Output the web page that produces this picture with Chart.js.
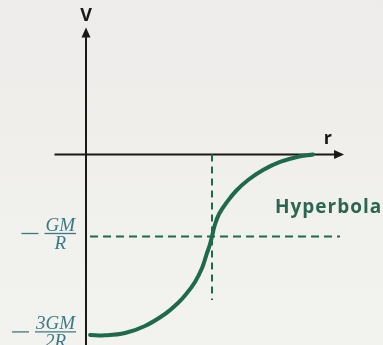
<!DOCTYPE html>
<html>
<head>
<meta charset="utf-8">
<script src="https://cdn.jsdelivr.net/npm/chart.js@4/dist/chart.umd.min.js"></script>
<style>
  html, body { margin: 0; padding: 0; background: #efeeec; }
  #wrap { width: 383px; height: 345px; }
</style>
</head>
<body>
<div id="wrap"><canvas id="potentialChart" width="383" height="345"></canvas></div>
<script>
// Potential V against distance r, r in units of R, V in sketch units
const rValues = [0.032, 0.151, 0.310, 0.468, 0.627, 0.730, 0.802, 0.865, 0.921, 0.955, 0.982, 1.0, 1.020, 1.056, 1.119, 1.190, 1.286, 1.405, 1.540, 1.675, 1.802];
const vValues = [-2.2, -2.205, -2.177, -2.091, -1.945, -1.811, -1.689, -1.555, -1.384, -1.226, -1.104, -1.0, -0.872, -0.726, -0.579, -0.445, -0.311, -0.189, -0.091, -0.030, 0.0];

// Levels marked on the V axis
const vTickValues = [-1.0, -2.2];
const vTickNumer = ['GM', '3GM'];
const vTickDenom = ['R', '2R'];

// Guide lines at r = R and V = -GM/R
const guideR = [1.0, 1.0];
const guideRV = [0.0, -1.774];
const guideVr = [0.032, 2.016];
const guideV = [-1.0, -1.0];

const xRange = [-0.6825, 2.357];
const yRange = [-2.323, 1.884];

const green = '#1f6a4b';
const ink = '#1b1917';
const labelBlue = '#3b7a84';

function toPoints(xs, ys) {
    return xs.map((x, i) => ({ x: x, y: ys[i] }));
}

// Arrow head pointing along (dx, dy)
function arrowHead(ctx, x, y, dx, dy) {
    const len = 10, half = 4.5;
    const px = -dy, py = dx;
    ctx.beginPath();
    ctx.moveTo(x, y);
    ctx.lineTo(x - dx * len + px * half, y - dy * len + py * half);
    ctx.lineTo(x - dx * len - px * half, y - dy * len - py * half);
    ctx.closePath();
    ctx.fill();
}

const sketchPlugin = {
    id: 'sketch',
    beforeDraw(chart) {
        const ctx = chart.ctx;
        const g = ctx.createLinearGradient(0, 0, 0, chart.height);
        g.addColorStop(0, '#eeecea');
        g.addColorStop(1, '#f2f3ef');
        ctx.save();
        ctx.fillStyle = g;
        ctx.fillRect(0, 0, chart.width, chart.height);
        ctx.restore();
    },
    beforeDatasetsDraw(chart) {
        const ctx = chart.ctx;
        const xs = chart.scales.x, ys = chart.scales.y;
        const x0 = xs.getPixelForValue(0), y0 = ys.getPixelForValue(0);
        const xEnd = xs.getPixelForValue(2.048);
        const yTop = ys.getPixelForValue(1.55);

        ctx.save();
        ctx.strokeStyle = ink;
        ctx.fillStyle = ink;
        ctx.lineWidth = 2;
        // r axis
        ctx.beginPath();
        ctx.moveTo(xs.getPixelForValue(-0.25), y0);
        ctx.lineTo(xEnd - 4, y0);
        ctx.stroke();
        arrowHead(ctx, xEnd, y0, 1, 0);
        // V axis
        ctx.beginPath();
        ctx.moveTo(x0, chart.height);
        ctx.lineTo(x0, yTop + 4);
        ctx.stroke();
        arrowHead(ctx, x0, yTop, 0, -1);

        // axis names
        ctx.font = 'bold 18px "Open Sans", sans-serif';
        ctx.textAlign = 'center';
        ctx.textBaseline = 'middle';
        ctx.fillText('V', x0, 16);
        ctx.fillText('r', xs.getPixelForValue(1.92), 139);
        ctx.restore();
    },
    afterDatasetsDraw(chart) {
        const ctx = chart.ctx;
        const ys = chart.scales.y;
        ctx.save();
        ctx.fillStyle = labelBlue;
        ctx.strokeStyle = labelBlue;
        vTickValues.forEach((v, i) => {
            const yb = ys.getPixelForValue(v) - 3;
            ctx.font = 'italic 19px "Liberation Serif", serif';
            const w = Math.max(ctx.measureText(vTickNumer[i]).width, ctx.measureText(vTickDenom[i]).width);
            const right = 75;
            const cx = right - w / 2;
            ctx.textAlign = 'center';
            ctx.textBaseline = 'alphabetic';
            ctx.fillText(vTickNumer[i], cx, yb - 3);
            ctx.fillText(vTickDenom[i], cx, yb + 15);
            ctx.lineWidth = 1.3;
            ctx.beginPath();
            ctx.moveTo(right - w - 1, yb);
            ctx.lineTo(right + 1, yb);
            ctx.stroke();
            // minus sign
            ctx.beginPath();
            ctx.moveTo(right - w - 24, yb);
            ctx.lineTo(right - w - 7, yb);
            ctx.stroke();
        });

        ctx.fillStyle = '#2b6650';
        ctx.font = 'bold 19px "Open Sans", sans-serif';
        ctx.letterSpacing = '1px';
        ctx.textAlign = 'left';
        ctx.textBaseline = 'middle';
        ctx.fillText('Hyperbola', 275, 208);
        ctx.restore();
    }
};

new Chart(document.getElementById('potentialChart'), {
    type: 'scatter',
    data: {
        datasets: [
            {
                data: toPoints(guideR, guideRV),
                showLine: true,
                borderColor: green,
                borderWidth: 2,
                borderDash: [7, 5],
                pointRadius: 0
            },
            {
                data: toPoints(guideVr, guideV),
                showLine: true,
                borderColor: green,
                borderWidth: 2,
                borderDash: [8, 5],
                pointRadius: 0
            },
            {
                data: toPoints(rValues, vValues),
                showLine: true,
                borderColor: green,
                borderWidth: 4,
                tension: 0.4,
                borderCapStyle: 'round',
                pointRadius: 0
            }
        ]
    },
    options: {
        responsive: false,
        animation: false,
        layout: { padding: 0 },
        plugins: {
            legend: { display: false },
            tooltip: { enabled: false }
        },
        scales: {
            x: { type: 'linear', display: false, min: xRange[0], max: xRange[1] },
            y: { type: 'linear', display: false, min: yRange[0], max: yRange[1] }
        }
    },
    plugins: [sketchPlugin]
});
</script>
</body>
</html>
